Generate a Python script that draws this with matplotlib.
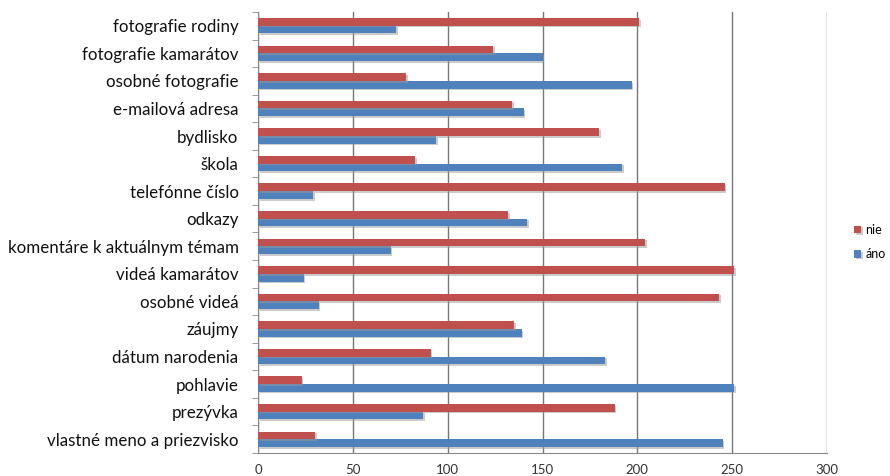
import matplotlib
matplotlib.use("Agg")
import matplotlib.pyplot as plt
import matplotlib.patheffects as pe
import numpy as np

plt.rcParams['font.family'] = ['Lato', 'DejaVu Sans']

categories = [
    "vlastné meno a priezvisko", "prezývka", "pohlavie", "dátum narodenia",
    "záujmy", "osobné videá", "videá kamarátov", "komentáre k aktuálnym témam",
    "odkazy", "telefónne číslo", "škola", "bydlisko", "e-mailová adresa",
    "osobné fotografie", "fotografie kamarátov", "fotografie rodiny",
]
ano = [245, 87, 251, 183, 139, 32, 24, 70, 142, 29, 192, 94, 140, 197, 150, 73]
nie = [30, 188, 23, 91, 135, 243, 251, 204, 132, 246, 83, 180, 134, 78, 124, 201]
series_names = ["nie", "áno"]
colors = {"nie": "#C0504D", "áno": "#4F81BD"}
xticks = [0, 50, 100, 150, 200, 250, 300]

fig = plt.figure(figsize=(8.9, 4.76), dpi=100)
ax = fig.add_axes([258 / 890, 1 - 453 / 476, (827 - 258) / 890, (453 - 12) / 476])

y = np.arange(len(categories))
h = 0.28
shadow = [pe.SimplePatchShadow(offset=(1.2, -1.2), shadow_rgbFace="#999999", alpha=0.5), pe.Normal()]
ax.barh(y - h / 2, ano, height=h, color=colors["áno"], label="áno", path_effects=shadow, zorder=3)
ax.barh(y + h / 2, nie, height=h, color=colors["nie"], label="nie", path_effects=shadow, zorder=3)

ax.set_xlim(0, 300)
ax.set_ylim(-0.5, len(categories) - 0.5)
ax.set_xticks(xticks)
ax.set_xticklabels([str(t) for t in xticks], fontsize=9.5, color="#333333")
ax.set_yticks(y)
ax.set_yticklabels(categories, fontsize=12.2, color="#111111")
ax.tick_params(axis="x", length=0, pad=8)
ax.tick_params(axis="y", length=0, pad=14)
ax.set_yticks(np.arange(-0.5, len(categories), 1), minor=True)
ax.tick_params(axis="y", which="minor", length=4, color="#888888", direction="out")

ax.grid(axis="x", color="#777777", linewidth=1.0, zorder=0)
for side in ["top", "right"]:
    ax.spines[side].set_visible(False)
for side in ["left", "bottom"]:
    ax.spines[side].set_color("#888888")

handles, labels = ax.get_legend_handles_labels()
order = [labels.index(n) for n in series_names]
leg = fig.legend([handles[i] for i in order], series_names, loc="center left",
                 bbox_to_anchor=(843 / 890, 1 - 242 / 476), frameon=False,
                 fontsize=9, handlelength=0.55, handleheight=0.55, handletextpad=0.35,
                 labelspacing=1.0)

fig.savefig("out.png", dpi=100, facecolor="white")
